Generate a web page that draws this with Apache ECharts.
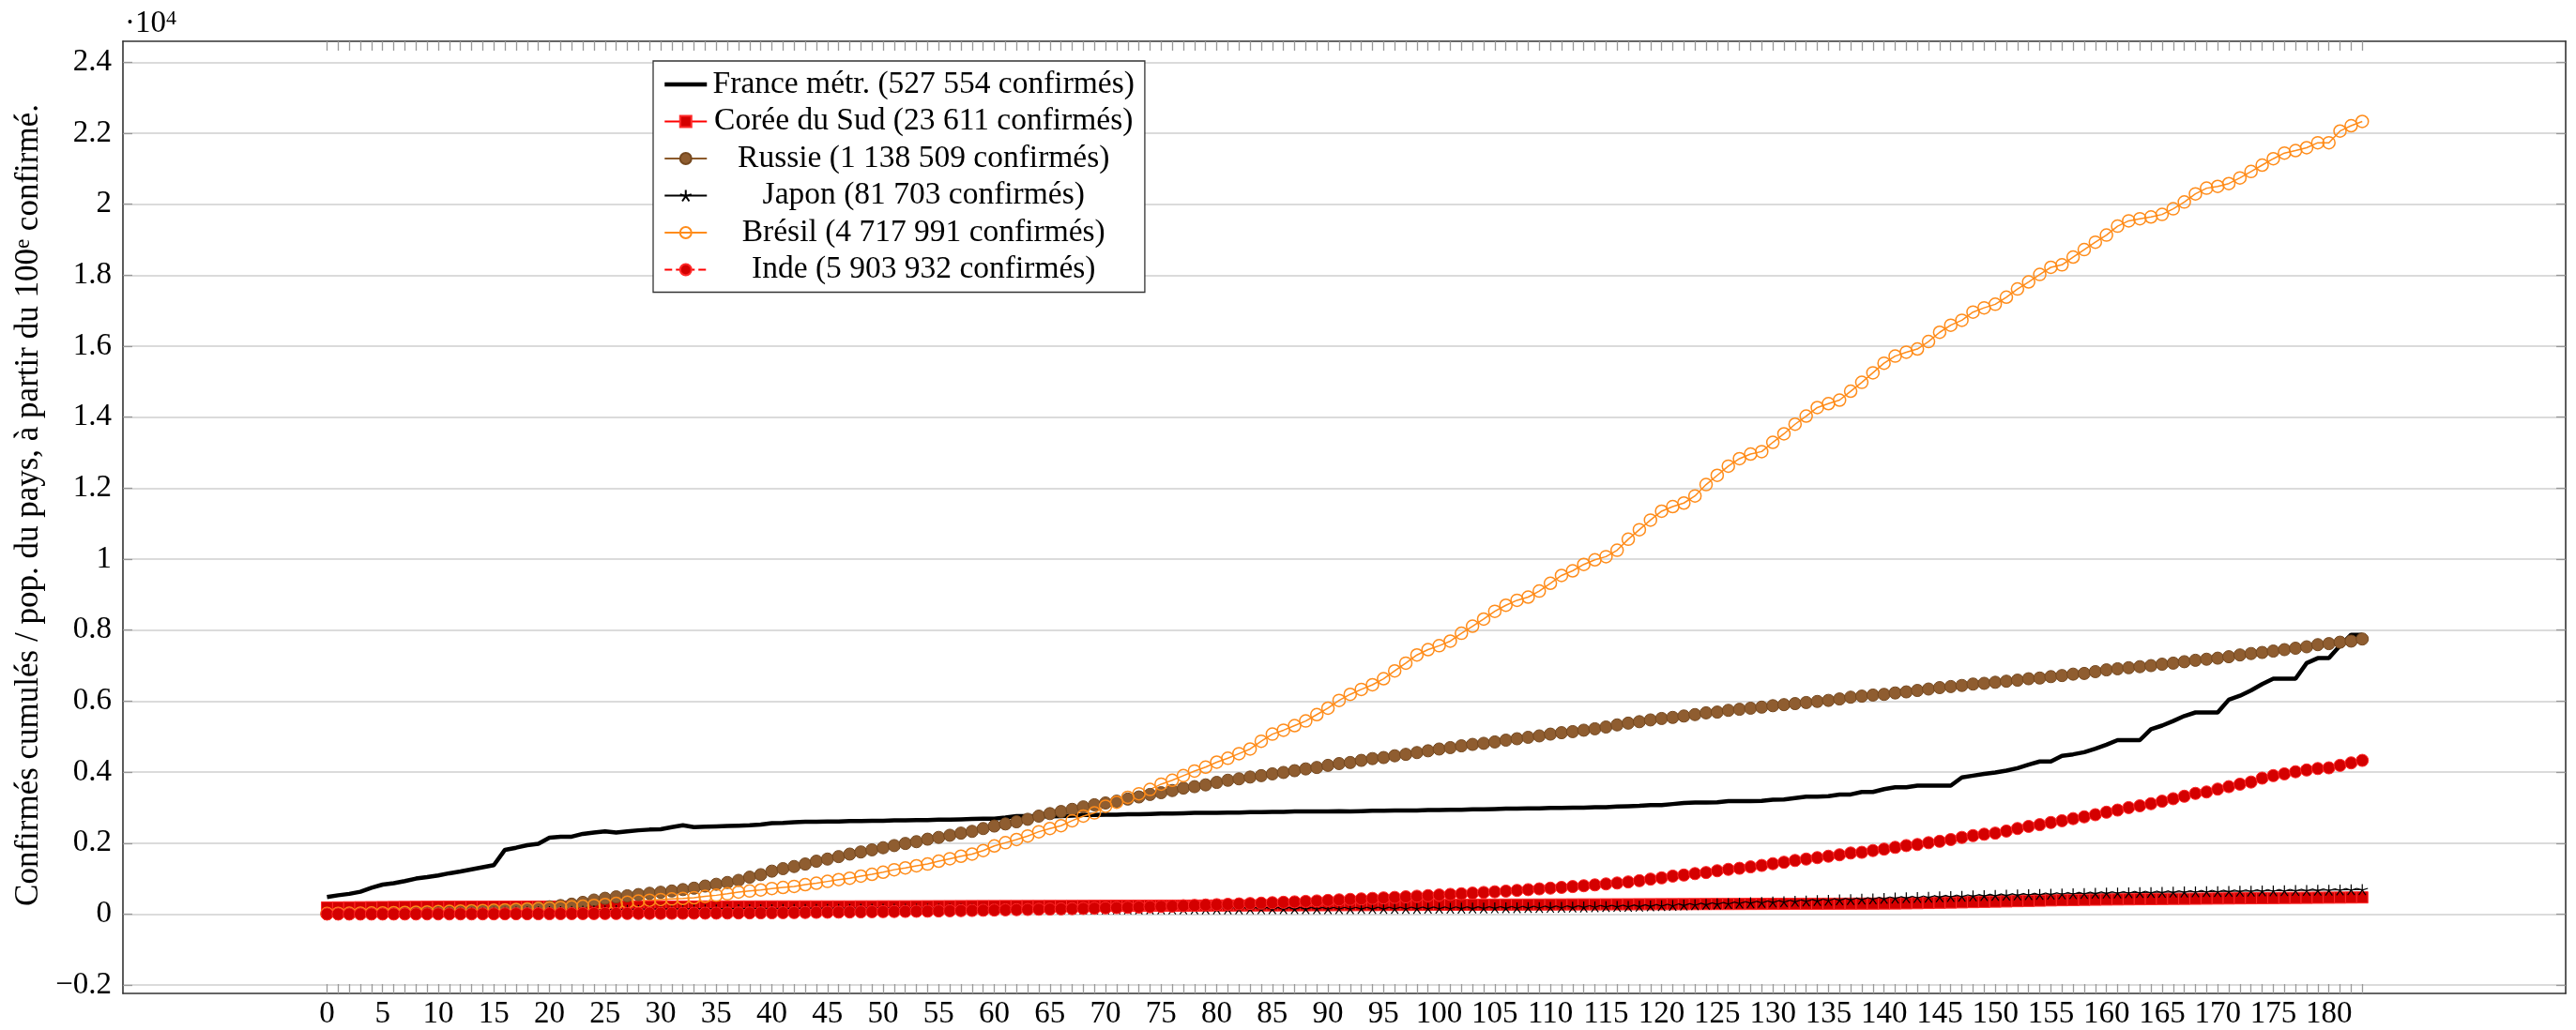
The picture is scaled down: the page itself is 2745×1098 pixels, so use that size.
<!DOCTYPE html>
<html><head><meta charset="utf-8">
<script src="https://cdn.jsdelivr.net/npm/echarts@6/dist/echarts.min.js"></script>
<style>html,body{margin:0;padding:0;background:#fff}#c{width:2745px;height:1098px}</style>
</head><body><div id="c"></div>
<script>
// ---- data (values in raw units; axis shows them ·10^4) ----
const SERIES_NAMES = [
  'France métr. (527 554 confirmés)',
  'Corée du Sud (23 611 confirmés)',
  'Russie (1 138 509 confirmés)',
  'Japon (81 703 confirmés)',
  'Brésil (4 717 991 confirmés)',
  'Inde (5 903 932 confirmés)'
];
const FRANCE = [480,530,570,630,740,830,870,930,1000,1040,
1090,1150,1200,1260,1320,1380,1810,1870,1940,1980,
2150,2180,2180,2260,2300,2330,2300,2330,2360,2380,
2390,2450,2500,2450,2460,2470,2480,2490,2500,2520,
2560,2570,2590,2600,2600,2610,2610,2620,2620,2630,
2630,2640,2640,2650,2650,2660,2660,2670,2680,2690,
2690,2720,2760,2760,2750,2750,2760,2770,2790,2790,
2800,2800,2810,2810,2820,2830,2830,2840,2850,2850,
2850,2860,2860,2870,2870,2880,2880,2890,2890,2890,
2890,2900,2890,2900,2910,2910,2920,2920,2920,2930,
2930,2940,2940,2950,2950,2960,2970,2970,2980,2980,
2990,2990,3000,3000,3010,3010,3030,3040,3050,3070,
3070,3100,3130,3140,3140,3150,3180,3180,3180,3190,
3220,3230,3270,3310,3310,3320,3370,3370,3440,3440,
3520,3570,3570,3620,3620,3620,3620,3850,3900,3950,
3990,4040,4110,4210,4300,4300,4460,4500,4560,4660,
4770,4900,4900,4900,5210,5310,5440,5580,5680,5680,
5680,6040,6150,6300,6480,6630,6630,6630,7070,7210,
7210,7560,7870,7870];
const KOREA = [186,188,190,192,194,197,199,201,203,205,
206,207,207,208,208,209,209,209,210,210,
210,211,211,211,212,212,212,212,213,213,
213,213,213,213,214,214,214,214,214,215,
215,215,215,216,216,216,216,216,217,217,
218,218,219,220,221,222,223,224,225,226,
226,227,227,228,228,229,229,230,231,232,
233,234,234,235,236,237,237,238,239,240,
241,241,242,243,244,245,246,247,248,249,
250,251,252,253,254,256,257,258,259,260,
261,262,263,264,265,266,267,267,268,269,
270,271,272,273,273,274,275,276,277,278,
279,280,281,282,283,284,284,285,286,287,
288,288,289,290,290,291,292,293,294,295,
297,299,303,308,314,320,325,331,338,345,
351,357,365,372,379,386,392,397,402,406,
410,413,416,419,422,425,428,430,433,436,
439,441,444,446,449,451,454,456,458,461,
463,465,468,470];
const RUSSIA = [8,9,11,13,16,19,23,27,32,37,
43,50,58,68,80,93,110,128,150,175,
205,240,280,330,395,445,485,515,550,585,
615,650,690,730,790,840,890,950,1040,1110,
1210,1280,1340,1410,1490,1550,1620,1690,1750,1810,
1870,1930,1990,2040,2110,2160,2220,2280,2330,2410,
2480,2540,2600,2670,2760,2830,2890,2950,3020,3080,
3130,3180,3240,3300,3370,3420,3480,3550,3590,3640,
3710,3770,3810,3860,3900,3950,3990,4040,4090,4130,
4190,4240,4270,4330,4380,4410,4460,4500,4550,4600,
4650,4690,4740,4780,4810,4850,4900,4940,4980,5020,
5070,5110,5140,5180,5220,5270,5330,5380,5420,5470,
5510,5540,5580,5620,5670,5690,5740,5770,5800,5830,
5870,5900,5930,5960,5990,6020,6060,6110,6140,6170,
6190,6230,6260,6300,6340,6380,6410,6440,6480,6500,
6530,6560,6590,6630,6650,6690,6720,6760,6780,6830,
6880,6910,6940,6970,7000,7040,7070,7110,7150,7180,
7210,7250,7300,7340,7370,7410,7450,7490,7530,7590,
7620,7660,7690,7750];
const JAPAN = [13,14,15,16,18,20,22,25,28,31,
34,37,40,43,47,51,55,59,63,67,
71,75,79,84,91,95,99,102,105,108,
110,112,114,116,118,121,123,125,126,127,
128,129,130,131,132,133,134,134,135,135,
136,136,137,137,138,138,138,139,139,139,
140,140,140,141,141,141,142,142,142,143,
143,143,144,144,145,146,146,146,147,147,
148,148,148,149,149,150,150,151,151,152,
152,153,154,155,156,157,158,160,161,163,
165,166,168,170,172,175,177,180,183,186,
189,193,197,201,206,212,215,218,222,230,
238,246,255,265,276,287,298,310,320,330,
340,350,360,370,381,391,402,412,422,432,
442,452,461,470,478,487,496,504,512,520,
527,534,541,548,555,562,569,576,582,587,
592,597,601,606,610,615,619,624,628,632,
636,640,644,648,652,656,660,664,668,672,
676,680,685,690];
const BRAZIL = [16,19,22,26,30,34,39,45,52,60,
68,76,84,92,100,110,120,132,144,156,
170,185,200,220,245,270,300,335,365,390,
410,425,440,460,500,530,570,620,650,680,
720,750,780,830,870,920,970,1010,1070,1120,
1180,1250,1300,1360,1410,1490,1560,1630,1690,1790,
1920,2010,2100,2200,2320,2410,2490,2630,2760,2850,
3040,3150,3290,3390,3510,3660,3770,3900,4030,4140,
4280,4390,4520,4650,4870,5070,5180,5310,5440,5620,
5800,6020,6190,6330,6460,6630,6850,7070,7300,7450,
7560,7690,7910,8110,8310,8530,8700,8840,8930,9100,
9320,9540,9670,9850,9980,10070,10250,10560,10830,11100,
11350,11480,11580,11780,12100,12360,12620,12830,12960,13030,
13290,13530,13800,14030,14270,14380,14480,14730,14980,15250,
15520,15720,15830,15920,16130,16390,16590,16730,16960,17080,
17180,17380,17610,17810,18020,18220,18290,18510,18720,18930,
19130,19380,19530,19590,19640,19710,19870,20060,20290,20450,
20500,20580,20740,20920,21100,21280,21440,21510,21590,21730,
21730,22060,22210,22330];
const INDIA = [1,1,1,1,2,2,2,3,3,4,
4,4,5,5,6,6,7,8,8,9,
10,11,12,13,14,15,16,17,19,20,
21,22,23,25,26,27,29,31,33,35,
37,40,42,45,49,52,55,59,62,66,
69,72,75,79,82,87,92,97,102,108,
113,119,124,130,136,141,146,152,159,166,
174,181,189,197,206,215,224,234,244,255,
265,275,286,297,308,320,332,344,357,370,
385,400,414,428,442,456,470,486,503,520,
537,555,572,590,609,628,647,667,688,710,
731,752,775,798,823,850,875,905,940,985,
1020,1070,1100,1140,1170,1220,1260,1290,1330,1370,
1420,1460,1510,1550,1590,1630,1670,1720,1740,1790,
1830,1880,1930,1960,2010,2050,2100,2160,2210,2250,
2280,2340,2410,2470,2520,2580,2630,2690,2740,2800,
2870,2930,3000,3050,3110,3180,3250,3320,3400,3440,
3520,3590,3660,3720,3830,3900,3950,4010,4060,4100,
4120,4190,4260,4330];
const X_TICK_LABELS = [0,5,10,15,20,25,30,35,40,45,50,55,60,65,70,75,80,85,90,95,
  100,105,110,115,120,125,130,135,140,145,150,155,160,165,170,175,180];
const Y_TICK_VALUES = [-2000,0,2000,4000,6000,8000,10000,12000,14000,16000,18000,20000,22000,24000];

// ---- chart ----
const days = FRANCE.map((_, i) => i);
const pairs = arr => arr.map((v, i) => [days[i], v]);
const FONT = 'Liberation Serif';
const FS = 33;
const LFS = 33.5;
const X_MIN = -18.35, X_MAX = 201.29, Y_MIN = -2235, Y_MAX = 24589;
const asterisk = 'path://M10,10L10,0M10,10L19.51,6.91M10,10L15.88,18.09M10,10L4.12,18.09M10,10L0.49,6.91';
const fmtY = v => String(+(v / 10000).toFixed(1)).replace('-', '\u2212');

const frameLine = {show: true, onZero: false, lineStyle: {color: '#333', width: 1.6}};
const tickStyle = {lineStyle: {color: '#999', width: 1.3}};

const chart = echarts.init(document.getElementById('c'), null, {renderer: 'canvas'});
chart.setOption({
  animation: false,
  backgroundColor: '#fff',
  title: {
    text: '{a|·10}{b|4}', left: 128, top: 4,
    textStyle: {fontWeight: 'normal', rich: {
      a: {fontFamily: FONT, fontSize: FS, fontWeight: 'normal', color: '#000'},
      b: {fontFamily: FONT, fontSize: 22, fontWeight: 'normal', color: '#000', verticalAlign: 'top'}
    }}
  },
  grid: {left: 131, right: 11, top: 44, bottom: 39, containLabel: false},
  legend: {
    orient: 'vertical', left: 696, top: 65,
    padding: [8, 11, 7, 10], itemGap: 5.5, itemWidth: 45, itemHeight: 15,
    backgroundColor: '#fff', borderColor: '#333', borderWidth: 1.3,
    data: [
      {name: SERIES_NAMES[0], itemStyle: {color: 'rgba(0,0,0,0)', borderWidth: 0, opacity: 0}, lineStyle: {width: 4.5, color: '#000'}},
      SERIES_NAMES[1], SERIES_NAMES[2], SERIES_NAMES[3], SERIES_NAMES[4], SERIES_NAMES[5]
    ],
    formatter: n => '{t|' + n + '}',
    textStyle: {rich: {t: {width: 452, align: 'center', fontFamily: FONT, fontSize: LFS, color: '#000'}}}
  },
  xAxis: [{
    type: 'value', position: 'bottom', min: X_MIN, max: X_MAX,
    axisLine: frameLine,
    axisTick: {show: true, inside: true, length: 10, customValues: days, ...tickStyle},
    axisLabel: {show: true, customValues: X_TICK_LABELS, fontFamily: FONT, fontSize: FS, color: '#000', margin: 6},
    splitLine: {show: false}
  }, {
    type: 'value', position: 'top', min: X_MIN, max: X_MAX,
    axisLine: frameLine,
    axisTick: {show: true, inside: true, length: 10, customValues: days, ...tickStyle},
    axisLabel: {show: false},
    splitLine: {show: false}
  }],
  yAxis: [{
    type: 'value', position: 'left', min: Y_MIN, max: Y_MAX,
    axisLine: frameLine,
    axisTick: {show: true, inside: true, length: 10, customValues: Y_TICK_VALUES, ...tickStyle},
    axisLabel: {show: true, customValues: Y_TICK_VALUES, formatter: fmtY, fontFamily: FONT, fontSize: FS, color: '#000', margin: 12},
    splitLine: {show: true, lineStyle: {color: '#cfcfcf', width: 1.5}},
    name: '{n|Confirmés cumulés / pop. du pays, à partir du 100}{s|e}{n| confirmé.}',
    nameLocation: 'middle', nameRotate: 90, nameGap: 78,
    nameTextStyle: {padding: [0, 0, 0, 26], rich: {
      n: {fontFamily: FONT, fontSize: 35, color: '#000'},
      s: {fontFamily: FONT, fontSize: 23, color: '#000', verticalAlign: 'top'}
    }}
  }, {
    type: 'value', position: 'right', min: Y_MIN, max: Y_MAX,
    axisLine: frameLine,
    axisTick: {show: true, inside: true, length: 10, customValues: Y_TICK_VALUES, ...tickStyle},
    axisLabel: {show: false},
    splitLine: {show: false}
  }],
  series: [
    {name: SERIES_NAMES[0], type: 'line', data: pairs(FRANCE), symbol: 'none',
     lineStyle: {color: '#000', width: 4.5}, itemStyle: {color: '#000'}},
    {name: SERIES_NAMES[1], type: 'line', data: pairs(KOREA), symbol: 'rect', symbolSize: 12, showAllSymbol: true,
     lineStyle: {color: '#ff0000', width: 1}, itemStyle: {color: '#d40000', borderColor: '#ff2a2a', borderWidth: 1}},
    {name: SERIES_NAMES[2], type: 'line', data: pairs(RUSSIA), symbol: 'circle', symbolSize: 13, showAllSymbol: true,
     lineStyle: {color: '#8b5a2b', width: 1}, itemStyle: {color: '#8f5d30', borderColor: '#75481f', borderWidth: 1}},
    {name: SERIES_NAMES[3], type: 'line', data: pairs(JAPAN), symbol: asterisk, symbolSize: 12, symbolKeepAspect: true, showAllSymbol: true,
     lineStyle: {color: '#000', width: 1}, itemStyle: {color: '#000', borderColor: '#000', borderWidth: 1.2}},
    {name: SERIES_NAMES[4], type: 'line', data: pairs(BRAZIL), symbol: 'circle', symbolSize: 13, showAllSymbol: true,
     lineStyle: {color: '#ff8c1a', width: 1.5}, itemStyle: {color: 'rgba(255,255,255,0)', borderColor: '#ff8c1a', borderWidth: 1.5}},
    {name: SERIES_NAMES[5], type: 'line', data: pairs(INDIA), symbol: 'circle', symbolSize: 13, showAllSymbol: true,
     lineStyle: {color: '#ff0000', width: 1, type: 'dashed'}, itemStyle: {color: '#d40000', borderColor: '#ff2a2a', borderWidth: 1}}
  ]
});
</script>
</body></html>
